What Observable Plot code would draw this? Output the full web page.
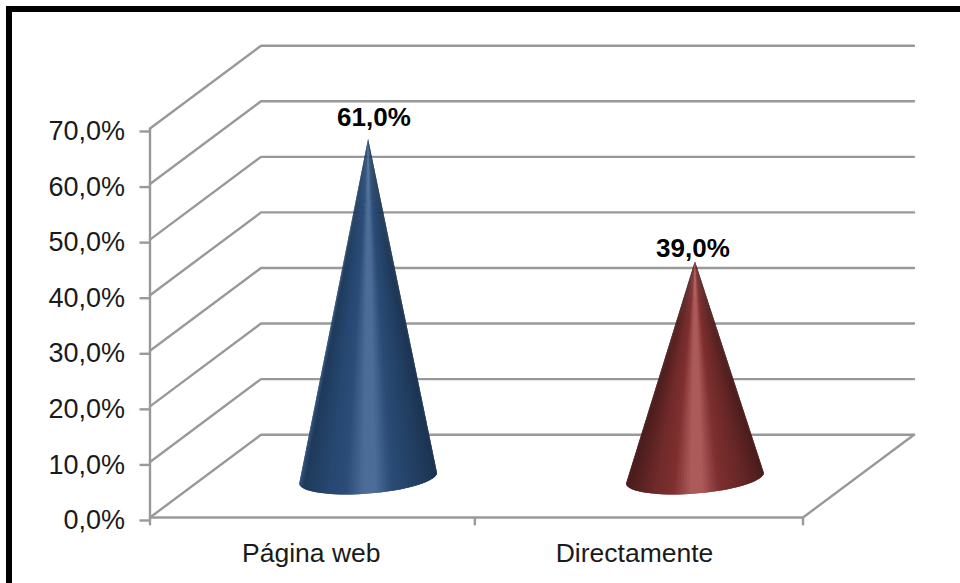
<!DOCTYPE html>
<html>
<head>
<meta charset="utf-8">
<script src="https://cdn.jsdelivr.net/npm/d3@7"></script>
<script src="https://cdn.jsdelivr.net/npm/@observablehq/plot@0.6"></script>
<style>
  html, body { margin: 0; padding: 0; background: #fff; overflow: hidden; }
  #chart { position: relative; width: 960px; height: 583px; }
  #chart svg { display: block; position: absolute; left: 0; top: 0; }
  #frame { position: absolute; left: 6px; top: 6px; right: 0; bottom: 0;
           border-top: 6px solid #000; border-left: 6px solid #000; }
</style>
</head>
<body>
<div id="chart"><div id="frame"></div></div>
<script>
const categories = ["Página web", "Directamente"];
const shares = [61, 39];
const shareLabels = ["61,0%", "39,0%"];
const yTicks = [0, 10, 20, 30, 40, 50, 60, 70];
const xTicks = [0, 0.995, 2];
const categoryTicks = [0.5, 1.49];

// 3-D projection of the chart box, in scale units
const depthX = 0.34;
const depthY = 14.9;
// cone placement, in scale units
const coneX = [0.668, 1.669];
const coneBase = 7.1;
const coneMajorX = 0.211;
const coneMajorY = 0.95;
const coneMinorY = 2.8;
const labelX = [0.686, 1.663];
const labelY = [72.0, 48.4];

// shading across each cone, left to right
const shadeStops = [0, 0.03, 0.2, 0.33, 0.46, 0.54, 0.66, 0.85, 1];
const blueShades = ["#2f507a", "#1f3a5a", "#264770", "#2b4d78", "#4c6d97", "#4c6d97", "#2b4c76", "#223f62", "#1b3350"];
const redShades = ["#4a1c1c", "#4f1e1e", "#702a2a", "#7f2f2f", "#ac5a5a", "#ac5a5a", "#7f3030", "#652626", "#4a1c1c"];
const coneShades = [blueShades, redShades];

const gray = "#999999";
const sliceCount = 72;

const conePoint = (i, t) => ({
  x: coneX[i] + coneMajorX * Math.cos(t),
  y: coneBase + coneMajorY * Math.cos(t) + coneMinorY * Math.sin(t)
});

const slices = [];
shares.forEach((value, i) => {
  const shade = d3.scaleLinear().domain(shadeStops).range(coneShades[i]).interpolate(d3.interpolateRgb);
  const apex = { x: coneX[i], y: coneBase + value };
  for (let k = 0; k < sliceCount; k++) {
    const t0 = Math.PI + (k / sliceCount) * Math.PI;
    const t1 = Math.PI + (Math.min(k + 2, sliceCount) / sliceCount) * Math.PI;
    const a = conePoint(i, t0);
    const b = conePoint(i, t1);
    const color = d3.rgb(shade((a.x - coneX[i] + coneMajorX) / (2 * coneMajorX))).formatHex();
    const id = i + "-" + k;
    slices.push({ ...apex, id, color }, { ...a, id, color }, { ...b, id, color });
  }
});

const backLines = yTicks.map((v) => [[0, v], [depthX, v + depthY], [2 + depthX, v + depthY]]);
const gridRows = backLines.flatMap((pts, i) => pts.map(([x, y]) => ({ x, y, id: i })));
const floorEdge = [{ x: 0, y: 0 }, { x: 2, y: 0 }, { x: 2 + depthX, y: depthY }];

const plot = Plot.plot({
  width: 960,
  height: 583,
  marginLeft: 149.5,
  marginRight: 157.5,
  marginTop: 128,
  marginBottom: 66,
  style: { fontFamily: "'Liberation Sans', Arial, sans-serif", fontSize: "26px", background: "transparent", overflow: "visible" },
  x: { domain: [0, 2], axis: null },
  y: { domain: [0, 70], axis: null },
  color: { type: "identity" },
  marks: [
    Plot.line(gridRows, { x: "x", y: "y", z: "id", stroke: gray, strokeWidth: 2.4, curve: "linear" }),
    Plot.line(floorEdge, { x: "x", y: "y", stroke: gray, strokeWidth: 2.4 }),
    Plot.ruleX([0], { y1: 0, y2: 70, stroke: gray, strokeWidth: 2.4 }),
    Plot.ruleX(xTicks, { y1: 0, y2: -1.5, stroke: gray, strokeWidth: 2.4 }),
    Plot.axisY({ ticks: yTicks, tickFormat: (d) => d.toFixed(1).replace(".", ",") + "%", tickSize: 10, tickPadding: 15, stroke: gray, strokeWidth: 2.4, fill: "#1a1a1a", dy: 3, fontSize: 27, label: null }),
    Plot.axisX({ ticks: categoryTicks, tickFormat: (d) => categories[categoryTicks.indexOf(d)], tickSize: 0, tickPadding: 26, fill: "#1a1a1a", dx: -2, fontSize: 26.5, label: null }),
    Plot.line(slices, { x: "x", y: "y", z: "id", fill: "color", stroke: "none", curve: "linear" }),
    Plot.text(shares, { x: (d, i) => labelX[i], y: (d, i) => labelY[i], text: (d, i) => shareLabels[i], fontWeight: "bold", fill: "#000", fontSize: 26 })
  ]
});
document.getElementById("chart").prepend(plot);
</script>
</body>
</html>
